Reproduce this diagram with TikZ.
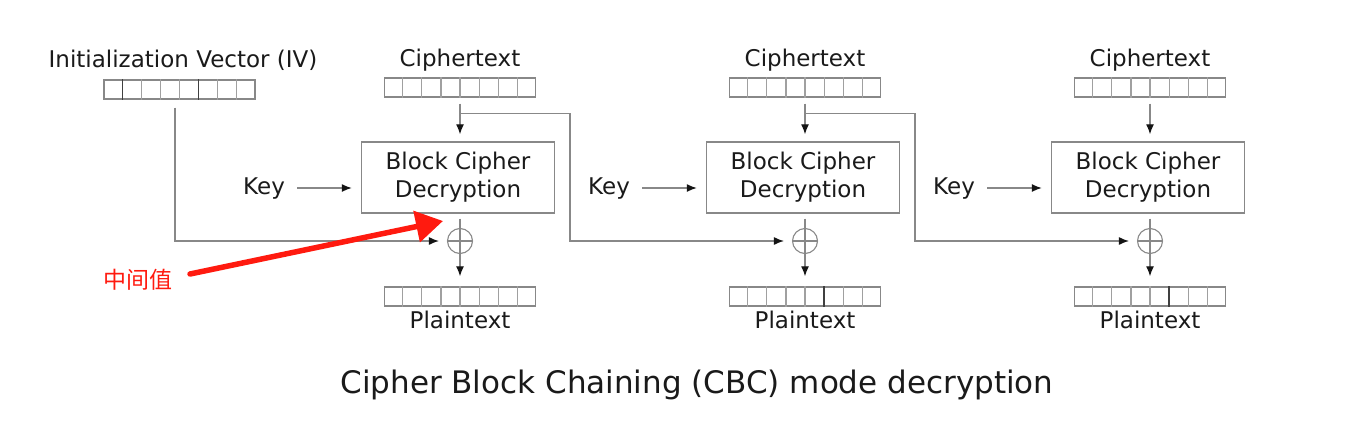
\documentclass[tikz,border=0pt]{standalone}
\usepackage{fontspec}
\setmainfont{DejaVu Sans}
\newfontfamily\cjk{Noto Sans CJK SC}
\usetikzlibrary{arrows.meta,calc}
\definecolor{lncol}{HTML}{888888}
\definecolor{txcol}{HTML}{1A1A1A}
\definecolor{tipcol}{HTML}{141414}
\definecolor{redcol}{HTML}{FF1A0F}
\newcommand{\lblfont}{\fontsize{23}{28}\selectfont}
\tikzset{
  line/.style={draw=lncol, line width=1.3pt},
  arr/.style={line, -{Latex[length=10pt,width=8pt,color=tipcol]}},
  reg/.style={draw=lncol, line width=1.4pt, minimum width=151pt, minimum height=19pt, inner sep=0pt},
  cellline/.style={draw=lncol!80, line width=1.1pt},
  darkcell/.style={draw=black!75, line width=1.2pt},
  blockbox/.style={draw=lncol, line width=1.4pt, minimum width=193pt, minimum height=71pt, align=center, font=\lblfont, text=txcol, inner sep=0pt},
  lbl/.style={font=\lblfont, text=txcol, anchor=base, inner sep=2pt},
  xorc/.style={circle, draw=lncol, line width=1.1pt, minimum size=25pt, inner sep=0pt,
    path picture={\draw[lncol, line width=1.1pt] (path picture bounding box.north) -- (path picture bounding box.south)
      (path picture bounding box.west) -- (path picture bounding box.east);}},
  redarr/.style={draw=redcol, line width=5.5pt, line cap=round, -{Triangle[length=27pt,width=31pt,color=redcol]}}
}
\begin{document}
\begin{tikzpicture}[x=1pt, y=-1pt]
\useasboundingbox[fill=white] (0,0) rectangle (1364,439);

% IV
\node[lbl] (ivlbl) at (183,67) {Initialization Vector (IV)};
\node[reg] (iv) at (179.5,89.5) {};
\foreach \i in {2,3,4,6,7} \draw[cellline] ($(iv.south west)!\i/8!(iv.south east)$) -- ($(iv.north west)!\i/8!(iv.north east)$);
\foreach \i in {1,5} \draw[darkcell] ($(iv.south west)!\i/8!(iv.south east)$) -- ($(iv.north west)!\i/8!(iv.north east)$);

% three columns
\foreach \n/\X in {1/460, 2/805, 3/1150} {
  \node[lbl] (ct\n) at (\X,66) {Ciphertext};
  \node[reg] (c\n) at (\X,87.5) {};
  \foreach \i in {1,...,7} \draw[cellline] ($(c\n.south west)!\i/8!(c\n.south east)$) -- ($(c\n.north west)!\i/8!(c\n.north east)$);
  \node[blockbox] (b\n) at (\X-2,177.5) {Block Cipher\\Decryption};
  \node[lbl] (k\n) at (\X-196,194) {Key};
  \node[xorc] (x\n) at (\X,241) {};
  \node[reg] (p\n) at (\X,296.5) {};
  \foreach \i in {1,...,7} \draw[cellline] ($(p\n.south west)!\i/8!(p\n.south east)$) -- ($(p\n.north west)!\i/8!(p\n.north east)$);
  \node[lbl] (pt\n) at (\X,328) {Plaintext};
  % connectors
  \draw[arr, shorten <=6pt, shorten >=7pt] (c\n.south) -- (c\n.south |- b\n.north);
  \draw[arr, shorten <=10pt, shorten >=9pt] (k\n.east) -- (k\n.east -| b\n.west);
  \draw[line, shorten <=5pt] (x\n |- b\n.south) -- (x\n.north);
  \draw[arr, shorten >=10pt] (x\n.south) -- (p\n.north);
}
\foreach \n in {2,3} \draw[darkcell] ($(p\n.south west)!5/8!(p\n.south east)$) -- ($(p\n.north west)!5/8!(p\n.north east)$);

% IV into first XOR
\draw[arr, shorten <=8pt, shorten >=8pt] ([xshift=-4.5pt]iv.south) |- (x1.west);
% chaining
\coordinate (br1) at ($(c1.south)+(0,16)$);
\coordinate (br2) at ($(c2.south)+(0,16)$);
\draw[arr, shorten >=8pt] (br1) -- ++(110,0) |- (x2.west);
\draw[arr, shorten >=8pt] (br2) -- ++(110,0) |- (x3.west);

% annotation
\node[text=redcol, font={\cjk\fontsize{23}{28}\selectfont}, inner sep=0pt] (mid) at (138,280) {中间值};
\coordinate (rs) at (190,274);
\coordinate (rt) at (443,221);
\draw[redarr] (rs) -- (rt);

% caption
\node[lbl, font=\fontsize{31}{37}\selectfont] (cap) at (697,393) {Cipher Block Chaining (CBC) mode decryption};
\end{tikzpicture}
\end{document}
